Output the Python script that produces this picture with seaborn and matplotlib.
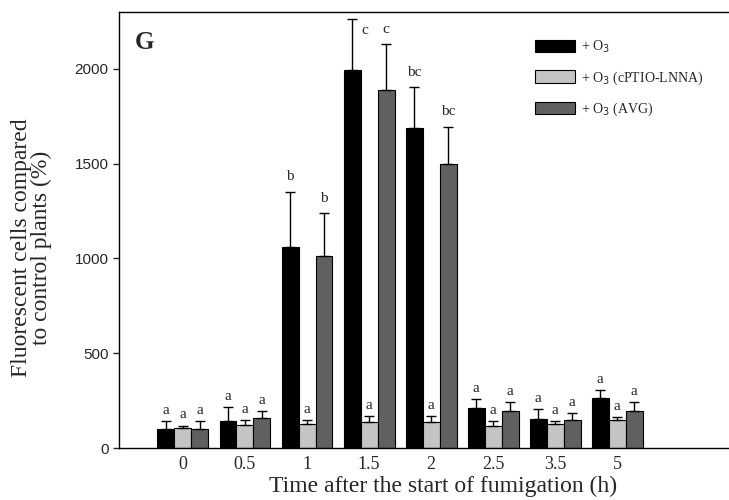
import matplotlib
matplotlib.use("Agg")
import matplotlib.pyplot as plt
import seaborn as sns
import pandas as pd
import numpy as np

# values
times = ['0', '0.5', '1', '1.5', '2', '2.5', '3.5', '5']
treatments = ['+ O$_3$', '+ O$_3$ (cPTIO-LNNA)', '+ O$_3$ (AVG)']

o3_mean = [100, 142, 1058, 1992, 1690, 211, 153, 262]
o3_err = [42, 75, 295, 272, 215, 48, 53, 44]
cptio_mean = [106, 122, 127, 137, 137, 116, 127, 148]
cptio_err = [12, 26, 21, 32, 32, 26, 15, 16]
avg_mean = [100, 158, 1013, 1886, 1500, 195, 148, 195]
avg_err = [42, 37, 227, 246, 195, 48, 37, 48]

o3_letters = ['a', 'a', 'b', 'c', 'bc', 'a', 'a', 'a']
cptio_letters = ['a'] * 8
avg_letters = ['a', 'a', 'b', 'c', 'bc', 'a', 'a', 'a']

colors = ['#000000', '#c4c4c4', '#606060']

df = pd.DataFrame({
    'Time': times * 3,
    'Treatment': [treatments[0]] * 8 + [treatments[1]] * 8 + [treatments[2]] * 8,
    'Value': o3_mean + cptio_mean + avg_mean,
})

sns.set_style("ticks")
plt.rcParams['font.family'] = ['Liberation Serif', 'DejaVu Serif']

fig = plt.figure(figsize=(7.29, 5), dpi=100)
ax = fig.add_axes([119 / 729, 52 / 500, 1 - 119 / 729, 436 / 500])

sns.barplot(data=df, x='Time', y='Value', hue='Treatment', order=times,
            hue_order=treatments, palette=colors, width=0.82, gap=0,
            errorbar=None, edgecolor='black', linewidth=0.8, ax=ax,
            legend=True)

ymax = 2300
errs = [o3_err, cptio_err, avg_err]
letters = [o3_letters, cptio_letters, avg_letters]
for cont, err, lab in zip(ax.containers, errs, letters):
    xs = [p.get_x() + p.get_width() / 2 for p in cont.patches]
    hs = [p.get_height() for p in cont.patches]
    ax.errorbar(xs, hs, yerr=[np.zeros(len(err)), err], fmt='none',
                ecolor='black', elinewidth=1.0, capsize=3.6, capthick=1.0,
                zorder=1)
    for x, h, e, t in zip(xs, hs, err, lab):
        top = h + e
        if top > 0.95 * ymax:
            # no room above the cap: letter sits to the right of it
            ax.annotate(t, (x, top), xytext=(7, -4), textcoords='offset points',
                        ha='left', va='top', fontsize=11)
        else:
            off = 3 if top < 500 else 6
            ax.annotate(t, (x, top), xytext=(0, off), textcoords='offset points',
                        ha='center', va='bottom', fontsize=11)

ax.set_ylim(0, ymax)
ax.set_xlim(-1.03, 8.8)
ax.set_yticks([0, 500, 1000, 1500, 2000])
ax.set_yticklabels(['0', '500', '1000', '1500', '2000'],
                   family=['Liberation Sans', 'DejaVu Sans'], fontsize=11)
ax.tick_params(axis='y', direction='out', length=4, width=1)
ax.tick_params(axis='x', length=0, labelsize=13, pad=6)

for s in ['left', 'bottom', 'top']:
    ax.spines[s].set_linewidth(1.0)
    ax.spines[s].set_color('black')
ax.spines['right'].set_visible(False)

ax.set_xlabel('Time after the start of fumigation (h)', fontsize=17)
ax.xaxis.label.set_va('center')
ax.xaxis.set_label_coords(0.531, -0.089)
ax.set_ylabel('Fluorescent cells compared\nto control plants (%)', fontsize=17,
              linespacing=0.95)
ax.yaxis.label.set_va('center')
ax.yaxis.set_label_coords(-0.143, 0.46)

ax.text(0.025, 0.93, 'G', transform=ax.transAxes, fontsize=18,
        fontweight='bold', ha='left', va='center')

ax.legend(loc='upper left', bbox_to_anchor=(535 / 729, 1 - 39 / 500),
          bbox_transform=fig.transFigure, frameon=False, fontsize=10,
          handlelength=2.9, handleheight=1.0, labelspacing=1.0,
          handletextpad=0.4, borderpad=0, borderaxespad=0)

plt.savefig("out.png", dpi=100)
